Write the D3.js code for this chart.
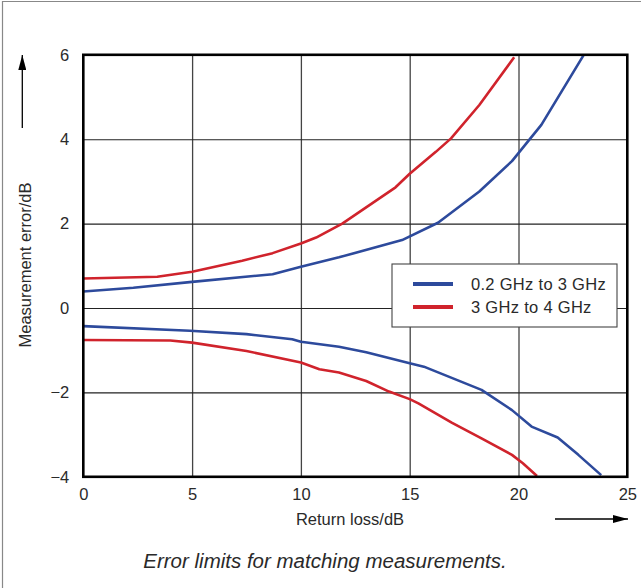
<!DOCTYPE html>
<html>
<head>
<meta charset="utf-8">
<script src="https://cdn.jsdelivr.net/npm/d3@7"></script>
<style>
  body { margin: 0; background: #fff; }
  text { font-family: "Liberation Sans", Arial, sans-serif; fill: #2a2a2a; }
</style>
</head>
<body>
<div class="chart"></div>
<script>
// ticks
const xTicks = [0, 5, 10, 15, 20, 25];
const xTickLabels = ["0", "5", "10", "15", "20", "25"];
const yTicks = [-4, -2, 0, 2, 4, 6];
const yTickLabels = ["\u22124", "\u22122", "0", "2", "4", "6"];

// legend
const bandLabels = ["0.2 GHz to 3 GHz", "3 GHz to 4 GHz"];

// 0.2 GHz to 3 GHz, upper and lower limit
const lowBandUpperLoss = [0, 2.3, 5, 8.7, 10, 11.75, 14.65, 16.3, 18.2, 19.7, 21.05, 23.0];
const lowBandUpperErr  = [0.39, 0.48, 0.62, 0.80, 0.98, 1.2, 1.61, 2.02, 2.76, 3.48, 4.34, 6.0];
const lowBandLowerLoss = [0, 4.9, 7.5, 9.6, 10, 11.75, 13.0, 15.0, 15.65, 18.3, 19.7, 20.6, 21.8, 22.75, 23.8];
const lowBandLowerErr  = [-0.43, -0.54, -0.62, -0.74, -0.80, -0.92, -1.05, -1.31, -1.39, -1.94, -2.42, -2.81, -3.07, -3.48, -3.96];

// 3 GHz to 4 GHz, upper and lower limit
const highBandUpperLoss = [0, 3.4, 5, 7.3, 8.7, 10, 10.7, 11.9, 14.35, 15, 16.2, 16.9, 18.2, 19.8];
const highBandUpperErr  = [0.70, 0.74, 0.86, 1.12, 1.30, 1.53, 1.67, 2.0, 2.86, 3.18, 3.70, 4.02, 4.81, 5.94];
const highBandLowerLoss = [0, 4.0, 5.0, 7.5, 10, 10.85, 11.75, 13.0, 14.05, 15.0, 15.4, 16.95, 18.3, 19.7, 20.2, 20.85];
const highBandLowerErr  = [-0.76, -0.77, -0.82, -1.02, -1.29, -1.45, -1.53, -1.73, -1.98, -2.16, -2.26, -2.72, -3.09, -3.48, -3.68, -3.98];

const WIDTH = 641, HEIGHT = 588;
const BLUE = "#2d4a9c", RED = "#d0232c";

const svg = d3.select(".chart").append("svg")
  .attr("width", WIDTH).attr("height", HEIGHT);

// outer frame (only left and top are drawn)
svg.append("path")
  .attr("d", "M2.5,588 V1.5 H641")
  .attr("fill", "none").attr("stroke", "#888").attr("stroke-width", 1.2);

const x = d3.scaleLinear().domain([0, 25]).range([83.3, 627.3]);
const y = d3.scaleLinear().domain([-4, 6]).range([476.8, 54.8]);

/* grid lines */
svg.append("g")
  .attr("transform", `translate(0,${y(-4)})`)
  .call(d3.axisBottom(x).tickValues(xTicks.slice(1, -1)).tickSize(-(y(-4) - y(6))).tickFormat(""))
  .call(g => g.select(".domain").remove())
  .call(g => g.selectAll("line").attr("stroke", "#444").attr("stroke-width", 1.3));

svg.append("g")
  .attr("transform", `translate(${x(0)},0)`)
  .call(d3.axisLeft(y).tickValues(yTicks.slice(1, -1)).tickSize(-(x(25) - x(0))).tickFormat(""))
  .call(g => g.select(".domain").remove())
  .call(g => g.selectAll("line").attr("stroke", "#222").attr("stroke-width", 1.1));

/* tick labels */
svg.append("g")
  .attr("transform", `translate(0,${y(-4)})`)
  .call(d3.axisBottom(x).tickValues(xTicks).tickSize(0).tickPadding(11)
    .tickFormat((d, i) => xTickLabels[i]))
  .call(g => g.select(".domain").remove())
  .call(g => g.selectAll("text").attr("font-size", 16.5).attr("font-family", null));

svg.append("g")
  .attr("transform", `translate(${x(0)},0)`)
  .call(d3.axisLeft(y).tickValues(yTicks).tickSize(0).tickPadding(14)
    .tickFormat((d, i) => yTickLabels[i]))
  .call(g => g.select(".domain").remove())
  .call(g => g.selectAll("text").attr("font-size", 16.5).attr("font-family", null));

/* curves */
const line = d3.line().x(d => x(d[0])).y(d => y(d[1]));
const curves = [
  [lowBandUpperLoss, lowBandUpperErr, BLUE],
  [lowBandLowerLoss, lowBandLowerErr, BLUE],
  [highBandUpperLoss, highBandUpperErr, RED],
  [highBandLowerLoss, highBandLowerErr, RED]
];
curves.forEach(c => {
  svg.append("path")
    .datum(d3.zip(c[0], c[1]))
    .attr("d", line)
    .attr("fill", "none")
    .attr("stroke", c[2])
    .attr("stroke-width", 2.6)
    .attr("stroke-linejoin", "round");
});

// plot frame
svg.append("rect")
  .attr("x", x(0)).attr("y", y(6))
  .attr("width", x(25) - x(0)).attr("height", y(-4) - y(6))
  .attr("fill", "none").attr("stroke", "#000").attr("stroke-width", 2.6);

/* legend */
const legend = svg.append("g");
legend.append("rect")
  .attr("x", 392).attr("y", 264).attr("width", 225).attr("height", 63)
  .attr("fill", "#fff").attr("stroke", "#444").attr("stroke-width", 1.1);
bandLabels.forEach((lab, i) => {
  legend.append("line")
    .attr("x1", 413).attr("x2", 453)
    .attr("y1", 284 + i * 23).attr("y2", 284 + i * 23)
    .attr("stroke", i === 0 ? BLUE : RED).attr("stroke-width", 4);
  legend.append("text")
    .attr("x", 471).attr("y", 290 + i * 23)
    .attr("font-size", 16.5).attr("letter-spacing", 0.3)
    .text(lab);
});

/* axis titles and arrows */
svg.append("defs").append("marker")
  .attr("id", "arrow").attr("viewBox", "0 0 10 10")
  .attr("refX", 10).attr("refY", 5)
  .attr("markerWidth", 15).attr("markerHeight", 8)
  .attr("markerUnits", "userSpaceOnUse")
  .attr("preserveAspectRatio", "none")
  .attr("orient", "auto")
  .append("path").attr("d", "M0,0 L10,5 L0,10 Z").attr("fill", "#000");

svg.append("line")
  .attr("x1", 22.3).attr("x2", 22.3).attr("y1", 128).attr("y2", 55)
  .attr("stroke", "#000").attr("stroke-width", 1.3).attr("marker-end", "url(#arrow)");
svg.append("line")
  .attr("x1", 555).attr("x2", 628).attr("y1", 519).attr("y2", 519)
  .attr("stroke", "#000").attr("stroke-width", 1.3).attr("marker-end", "url(#arrow)");

svg.append("text")
  .attr("transform", "translate(31,265) rotate(-90)")
  .attr("text-anchor", "middle").attr("font-size", 16.5)
  .text("Measurement error/dB");

svg.append("text")
  .attr("x", 350).attr("y", 525)
  .attr("text-anchor", "middle").attr("font-size", 16.5)
  .text("Return loss/dB");

svg.append("text")
  .attr("x", 325).attr("y", 568)
  .attr("text-anchor", "middle").attr("font-size", 20.5).attr("font-style", "italic")
  .text("Error limits for matching measurements.");
</script>
</body>
</html>
